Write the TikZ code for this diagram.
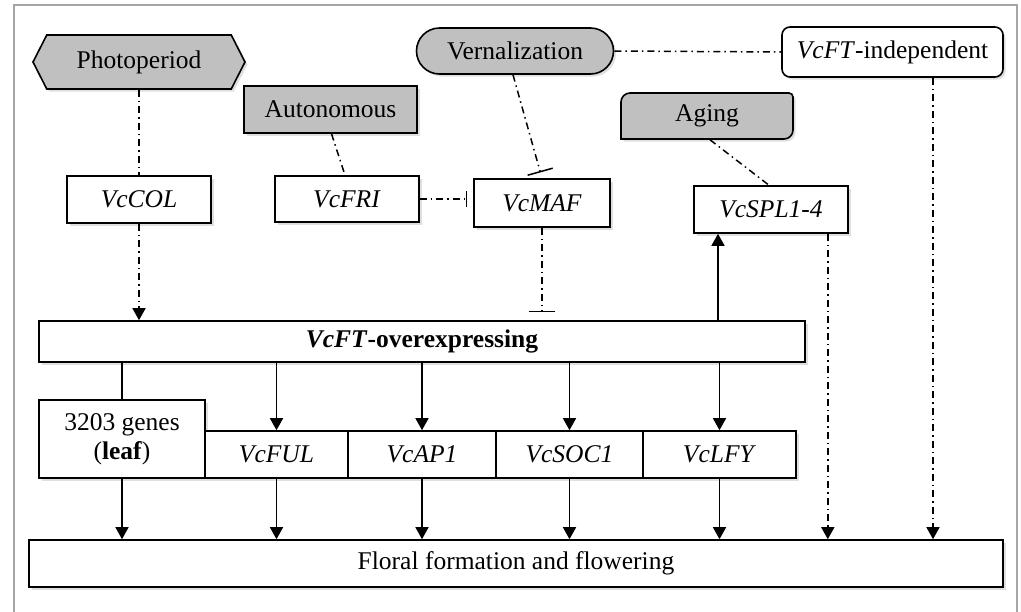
\documentclass[tikz,border=0pt]{standalone}
\usepackage{fontspec}
\setmainfont{Liberation Serif}
\usetikzlibrary{shapes.symbols,shapes.misc,arrows.meta,shadows,calc}
\definecolor{boxgray}{RGB}{192,192,192}
\definecolor{framegray}{RGB}{165,165,165}
\tikzset{
  shd/.style={drop shadow={opacity=0.25,shadow xshift=2.5pt,shadow yshift=-2.5pt}},
  base/.style={draw=black,line width=1.6pt,inner sep=0pt,align=center,
    font=\fontsize{25.5}{29}\selectfont},
  wbox/.style={base,fill=white,shd},
  gbox/.style={base,fill=boxgray,shd},
  dd/.style={line width=1.5pt,dash pattern=on 7pt off 4pt on 1.5pt off 4pt},
  sl/.style={line width=1.5pt},
  tri/.style={-{Triangle[width=13pt,length=12pt]}},
  inh/.style={-{Bar[width=#1,line width=1.5pt]}},
}
\begin{document}
\begin{tikzpicture}[x=1pt,y=-1pt]
\useasboundingbox (0,0) rectangle (1021,611);
\draw[framegray,line width=2pt] (14,5) rectangle (1017,630);

% top level regulators
\node[gbox,shape=signal,signal to=west and east,signal pointer angle=126,
  minimum width=212pt,minimum height=54pt] (photo) at (139,62) {Photoperiod};
\node[gbox,minimum width=173pt,minimum height=47pt] (auto) at (330.5,109.5) {Autonomous};
\node[gbox,rounded rectangle,minimum width=197pt,minimum height=46pt] (vern) at (515,51) {Vernalization};
\node[wbox,rounded corners=8pt,minimum width=221pt,minimum height=50pt] (indep) at (892.5,52) {\textit{VcFT}-independent};
\filldraw[base,fill=boxgray,shd] (700,139) -- (621,139)
  [rounded corners=9pt] -- (621,93) [rounded corners=4pt] -- (793,93)
  [rounded corners=9pt] -- (793,139) [sharp corners] -- cycle;
\node[base,draw=none,minimum width=172pt,minimum height=46pt] (aging) at (707,116) {Aging};

% genes
\node[wbox,minimum width=144pt,minimum height=47pt] (col) at (139,199.5) {\textit{VcCOL}};
\node[wbox,minimum width=144pt,minimum height=46pt] (fri) at (347,199) {\textit{VcFRI}};
\node[wbox,minimum width=136pt,minimum height=48pt] (maf) at (542,203) {\textit{VcMAF}};
\node[wbox,minimum width=154pt,minimum height=47pt] (spl) at (771,209.5) {\textit{VcSPL1-4}};

\node[wbox,minimum width=766pt,minimum height=41pt] (over) at (422,341.5) {\textbf{\textit{VcFT}-overexpressing}};

\node[wbox,minimum width=166pt,minimum height=78pt] (genes) at (122,439) {3203 genes\\(\textbf{leaf})};
\node[wbox,minimum width=143pt,minimum height=47pt] (ful) at (276.5,454.5) {\textit{VcFUL}};
\node[wbox,minimum width=148pt,minimum height=47pt] (ap1) at (422,454.5) {\textit{VcAP1}};
\node[wbox,minimum width=147pt,minimum height=47pt] (soc1) at (569.5,454.5) {\textit{VcSOC1}};
\node[wbox,minimum width=153pt,minimum height=47pt] (lfy) at (719.5,454.5) {\textit{VcLFY}};

\node[wbox,minimum width=974pt,minimum height=47pt] (floral) at (516,563.5) {Floral formation and flowering};

% dash-dot connectors
\draw[dd] (photo.south) -- (col.north);
\draw[dd,tri] (col.south) -- (col.south |- over.north);
\draw[dd] ([xshift=1pt]auto.south) -- ([xshift=-2pt]fri.north);
\draw[dd,inh=16pt,shorten >=6pt] (fri.east) -- (fri.east -| maf.west);
\draw[dd,inh=26pt,shorten >=6pt] ([xshift=-2pt]vern.south) -- (maf.north);
\draw[dd] (vern.east) -- (indep.west);
\draw[dd,inh=26pt,shorten >=8pt] (maf.south) -- (maf.south |- over.north);
\draw[dd] ([xshift=3pt]aging.south) -- ([xshift=-2pt]spl.north);
\draw[dd,tri] ([xshift=-21pt]spl.south east) -- ([xshift=-21pt]spl.south east |- floral.north);
\draw[dd,tri] ([xshift=40.5pt]indep.south) -- ([xshift=40.5pt]indep.south |- floral.north);

% solid connectors
\draw[sl,tri] ([xshift=-1.5pt]over.north -| lfy.north) -- ([xshift=-1.5pt]spl.south -| lfy.north);
\draw[sl] (genes.north |- over.south) -- (genes.north);
\foreach \n in {ful,ap1,soc1,lfy}{
  \draw[sl,tri] (\n.north |- over.south) -- (\n.north);
}
\foreach \n in {genes,ful,ap1,soc1,lfy}{
  \draw[sl,tri] (\n.south) -- (\n.south |- floral.north);
}
\end{tikzpicture}
\end{document}
